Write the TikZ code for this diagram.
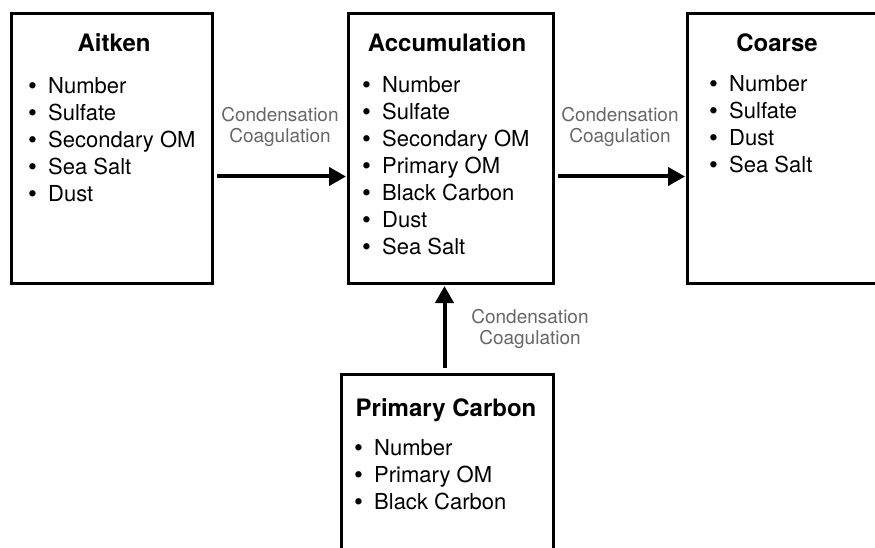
\documentclass[tikz,border=0pt]{standalone}
\usepackage{graphicx}
\usepackage{fontspec}
\setmainfont{TeX Gyre Heros}
\usetikzlibrary{arrows.meta}
\newcommand{\itm}[1]{\makebox[20pt][l]{\raisebox{-1.2pt}{\scalebox{1.15}{\textbullet}}}#1}
\tikzset{
  modebox/.style={draw,line width=3pt,anchor=north west,minimum height=270pt,inner sep=0pt},
  modetitle/.style={anchor=base,font=\fontsize{24}{28}\selectfont\bfseries},
  modelist/.style={anchor=north west,align=left,inner sep=0pt,font=\fontsize{22}{27}\selectfont},
  flow/.style={line width=4pt,-{Triangle[length=17pt,width=18pt]}},
  proc/.style={align=center,text=black!60,font=\fontsize{19}{21.5}\selectfont}
}
\begin{document}
\begin{tikzpicture}[x=1pt,y=-1pt] % aerosol modes
   \useasboundingbox (0,0) rectangle (875,548);
   \clip (0,0) rectangle (875,548);
   % the four modes
   \node[modebox,minimum width=201pt] (aitken) at (10,12) {};
   \node[modebox,minimum width=205pt] (accum) at (347,12) {};
   \node[modebox,minimum width=205pt] (coarse) at (686,12) {};
   \node[modebox,minimum width=212pt,minimum height=200pt] (primary) at (340,373) {};
   \node[modetitle] (aitkentitle) at (114,52) {Aitken};
   \node[modetitle] (accumtitle) at (447,52) {Accumulation};
   \node[modetitle] (coarsetitle) at (777,52) {Coarse};
   \node[modetitle] (primarytitle) at (446,416) {Primary Carbon};
   \node[modelist] (aitkenlist) at (28,77) {\itm{Number}\\ \itm{Sulfate}\\ \itm{Secondary OM}\\ \itm{Sea Salt}\\ \itm{Dust}};
   \node[modelist] (accumlist) at (362,76) {\itm{Number}\\ \itm{Sulfate}\\ \itm{Secondary OM}\\ \itm{Primary OM}\\ \itm{Black Carbon}\\ \itm{Dust}\\ \itm{Sea Salt}};
   \node[modelist] (coarselist) at (709,75) {\itm{Number}\\ \itm{Sulfate}\\ \itm{Dust}\\ \itm{Sea Salt}};
   \node[modelist] (primarylist) at (354,439) {\itm{Number}\\ \itm{Primary OM}\\ \itm{Black Carbon}};
   % transfers
   \draw[flow,shorten <=3pt,shorten >=1pt] ([yshift=-28pt]aitken.east) -- ([yshift=-28pt]accum.west);
   \draw[flow,shorten <=3pt,shorten >=1pt] ([yshift=-28pt]accum.east) -- ([yshift=-28pt]coarse.west);
   \draw[flow,shorten <=5pt,shorten >=1pt] ([xshift=-3pt]primary.north) -- ([xshift=-3pt]primary.north |- accum.south);
   \node[proc] (proc1) at (280,127) {Condensation\\Coagulation};
   \node[proc] (proc2) at (620,127) {Condensation\\Coagulation};
   \node[proc] (proc3) at (530,329) {Condensation\\Coagulation};
\end{tikzpicture}
\end{document}
